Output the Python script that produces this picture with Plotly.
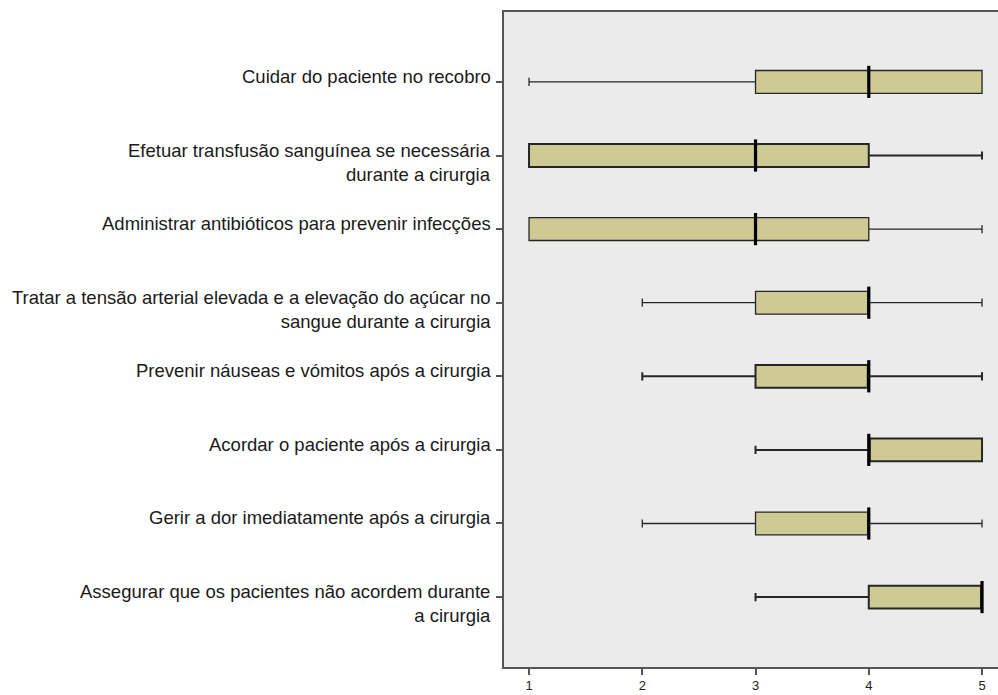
import plotly.graph_objects as go

# Items rated on a 1-5 scale (top to bottom)
categories = [
    "Cuidar do paciente no recobro",
    "Efetuar transfusão sanguínea se necessária<br>durante a cirurgia",
    "Administrar antibióticos para prevenir infecções",
    "Tratar a tensão arterial elevada e a elevação do açúcar no<br>sangue durante a cirurgia",
    "Prevenir náuseas e vómitos após a cirurgia",
    "Acordar o paciente após a cirurgia",
    "Gerir a dor imediatamente após a cirurgia",
    "Assegurar que os pacientes não acordem durante<br>a cirurgia",
]
lower_fence = [1, 1, 1, 2, 2, 3, 2, 3]
q1 = [3, 1, 1, 3, 3, 4, 3, 4]
median = [4, 3, 3, 4, 4, 4, 4, 5]
q3 = [5, 4, 4, 4, 4, 5, 4, 5]
upper_fence = [5, 5, 5, 5, 5, 5, 5, 5]
x_ticks = [1, 2, 3, 4, 5]

# Line weight per row (some whiskers are drawn heavier)
line_widths = [1.3, 2.0, 1.3, 1.3, 2.0, 2.0, 1.3, 2.0]

FILL = "#cdca94"
EDGE = "#262626"
LABEL_FONT = "Liberation Sans, Arial, Helvetica, sans-serif"

fig = go.Figure()
for i, cat in enumerate(categories):
    fig.add_trace(go.Box(
        y=[i], orientation="h",
        q1=[q1[i]], median=[median[i]], q3=[q3[i]],
        lowerfence=[lower_fence[i]], upperfence=[upper_fence[i]],
        fillcolor=FILL,
        line=dict(color=EDGE, width=line_widths[i]),
        width=0.31, whiskerwidth=0.36,
        boxpoints=False, hoverinfo="skip", showlegend=False,
    ))

# Heavy black median markers
fig.add_trace(go.Scatter(
    x=median, y=list(range(len(categories))), mode="markers",
    marker=dict(symbol="line-ns-open", size=23, color="#000000",
                line=dict(color="#000000", width=3.2)),
    hoverinfo="skip", showlegend=False,
))

# Row labels, right-aligned with the first line level with the tick
for i, cat in enumerate(categories):
    fig.add_annotation(
        x=0, xref="paper", xanchor="right", xshift=-11,
        y=i, yref="y", yanchor="top", yshift=18,
        text=cat, showarrow=False, align="right",
        font=dict(family=LABEL_FONT, size=18.5, color="#1a1a1a"),
    )

fig.update_layout(
    width=998, height=695,
    margin=dict(l=504, r=0, t=12, b=28, autoexpand=False),
    paper_bgcolor="white", plot_bgcolor="#ebebeb",
    boxmode="overlay",
    font=dict(family=LABEL_FONT, size=13, color="#222222"),
)
fig.update_xaxes(
    range=[0.779, 5.141], tickvals=x_ticks, ticktext=[str(v) for v in x_ticks],
    showgrid=False, zeroline=False, automargin=False,
    showline=True, linecolor="#555555", linewidth=1.5, mirror=True,
    ticks="outside", ticklen=6, tickwidth=2, tickcolor="#555555",
    ticklabelstandoff=0,
)
fig.update_yaxes(
    range=[7.95, -0.95], tickvals=list(range(len(categories))), showticklabels=False,
    showgrid=False, zeroline=False, automargin=False,
    showline=True, linecolor="#555555", linewidth=1.5,
    ticks="outside", ticklen=6, tickwidth=1.5, tickcolor="#555555",
)

fig.write_html("out.html")
